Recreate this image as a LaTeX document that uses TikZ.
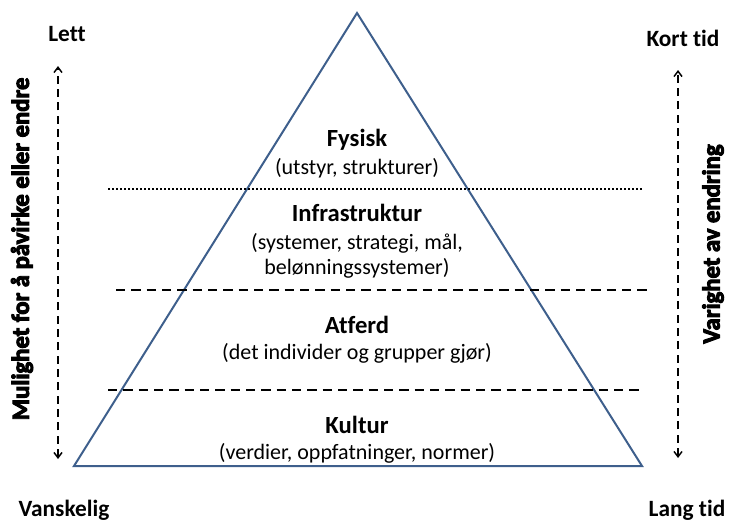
\documentclass[tikz,border=0pt]{standalone}
\usepackage{fontspec}
\setmainfont{Carlito}[Ligatures={NoCommon}]
\newfontfamily\heavyfont{Carlito Bold}[Ligatures={NoCommon}, FakeBold=4]
\usetikzlibrary{arrows.meta}
\definecolor{triblue}{RGB}{62,95,140}
\tikzset{
  tri/.style={draw=triblue, line width=1.5pt, line join=miter},
  sep/.style={draw=black, line width=1.5pt, dash pattern=on 7pt off 4.5pt},
  sepdot/.style={draw=black, line width=1.5pt, dash pattern=on 1.5pt off 1.5pt},
  axis/.style={draw=black, line width=1.1pt, dash pattern=on 6pt off 4pt, {Straight Barb[length=4pt,width=6pt]}-{Straight Barb[length=4pt,width=6pt]}},
  head/.style={font=\fontsize{18.5}{20}\selectfont\bfseries, inner sep=0pt},
  desc/.style={font=\fontsize{16.5}{18}\selectfont, inner sep=0pt},
  corner/.style={font=\fontsize{17.5}{19}\selectfont\bfseries, inner sep=0pt},
  sidelab/.style={font=\heavyfont\fontsize{18.5}{20}\selectfont, inner sep=0pt, rotate=90}
}
\begin{document}
\begin{tikzpicture}[x=0.75pt, y=-0.75pt]
\useasboundingbox (0,0) rectangle (730,522);
% triangle
\coordinate (apex) at (357,13);
\coordinate (bl) at (74,466);
\coordinate (br) at (642,466);
\draw[tri] (apex) -- (bl) -- (br) -- cycle;
% separators
\coordinate (d1a) at (108,189); \coordinate (d1b) at (642,189);
\coordinate (d2a) at (116,290); \coordinate (d2b) at (650,290);
\coordinate (d3a) at (108,390); \coordinate (d3b) at (642,390);
\draw[sepdot] (d1a) -- (d1b);
\draw[sep] (d2a) -- (d2b);
\draw[sep] (d3a) -- (d3b);
% layer texts
\node[head] (fys) at (357,140) {Fysisk};
\node[desc] (fysd) at (357,168) {(utstyr, strukturer)};
\node[head] (inf) at (357,213) {Infrastruktur};
\node[desc] (infd1) at (357,243) {(systemer, strategi, mål,};
\node[desc] (infd2) at (357,268) {belønningssystemer)};
\node[head] (atf) at (357,325) {Atferd};
\node[desc] (atfd) at (357,353) {(det individer og grupper gjør)};
\node[head] (kul) at (357,425) {Kultur};
\node[desc] (kuld) at (357,453) {(verdier, oppfatninger, normer)};
% left axis
\coordinate (lt) at (58,66);
\coordinate (lb) at (58,459);
\draw[axis] (lb) -- (lt);
\node[corner] (lett) at (67,34) {Lett};
\node[corner] (vansk) at (64,510) {Vanskelig};
\node[sidelab] (mul) at (22,249) {Mulighet for å påvirke eller endre};
% right axis
\coordinate (rt) at (678,70);
\coordinate (rb) at (678,458);
\draw[axis] (rb) -- (rt);
\node[corner] (kort) at (683,38) {Kort tid};
\node[corner] (lang) at (687,510) {Lang tid};
\node[sidelab] (var) at (713,244) {Varighet av endring};
\end{tikzpicture}
\end{document}
